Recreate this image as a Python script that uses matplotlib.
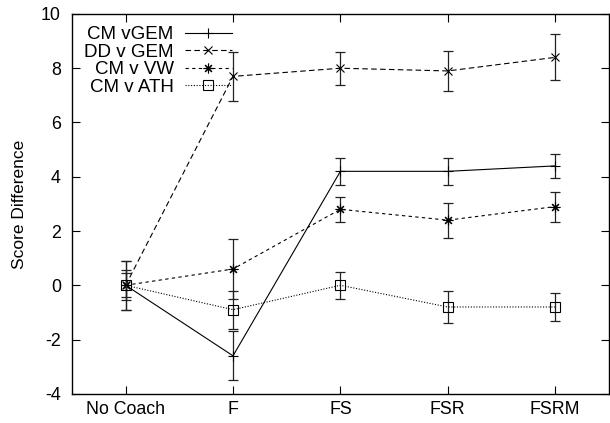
'''
Score difference by coaching condition, gnuplot-style error bar plot
'''

import matplotlib
matplotlib.use('Agg')
import matplotlib.pyplot as plt
import numpy as np

plt.rcParams['font.family'] = ['Liberation Sans', 'DejaVu Sans']
plt.rcParams['axes.unicode_minus'] = False

# conditions on the x axis
conditions = ['No Coach', 'F', 'FS', 'FSR', 'FSRM']

# series means and error half-widths
cm_vgem = [0.0, -2.6, 4.2, 4.2, 4.4]
cm_vgem_err = [0.9, 0.9, 0.5, 0.5, 0.45]
dd_vgem = [0.0, 7.7, 8.0, 7.9, 8.4]
dd_vgem_err = [0.9, 0.9, 0.6, 0.75, 0.85]
cm_vw = [0.0, 0.6, 2.8, 2.4, 2.9]
cm_vw_err = [0.55, 1.1, 0.45, 0.65, 0.55]
cm_ath = [0.0, -0.9, 0.0, -0.8, -0.8]
cm_ath_err = [0.45, 0.7, 0.5, 0.6, 0.5]

series = [
    ('CM vGEM', cm_vgem, cm_vgem_err, '-', '+', 'none', 7),
    ('DD v GEM', dd_vgem, dd_vgem_err, (0, (5, 3)), 'x', 'none', 6),
    ('CM v VW', cm_vw, cm_vw_err, (0, (3, 3)), (8, 2, 0), 'none', 7),
    ('CM v ATH', cm_ath, cm_ath_err, (0, (1, 1.5)), 's', 'none', 7),
]

x = np.arange(len(conditions))

fig = plt.figure(figsize=(6.10, 4.23), dpi=100)
ax = fig.add_axes([0.118, 0.069, 0.880, 0.898])

for label, vals, errs, ls, mk, mfc, ms in series:
    # error bars first, then the line with markers
    ax.errorbar(x, vals, yerr=errs, fmt='none', ecolor='#222222',
                elinewidth=0.9, capsize=3.5, capthick=0.9)
    ax.plot(x, vals, color='black', linestyle=ls, linewidth=0.8,
            marker=mk, markersize=ms, markerfacecolor=mfc,
            markeredgecolor='black', markeredgewidth=0.8, label=label)

ax.set_xlim(-0.5, 4.5)
ax.set_ylim(-4, 10)
ax.set_xticks(x)
ax.set_xticklabels(conditions)
ax.set_yticks(np.arange(-4, 11, 2))
ax.tick_params(direction='in', length=6, width=0.8, top=True, right=True,
               labelsize=12.8)
ax.tick_params(axis='y', pad=8)
ax.tick_params(axis='x', pad=5)
for s in ax.spines.values():
    s.set_linewidth(1.0)

ax.set_ylabel('Score Difference', fontsize=12.5, labelpad=10)

ax.legend(loc='upper left', frameon=False, markerfirst=False, fontsize=13.5,
          handlelength=2.5, handletextpad=0.6, labelspacing=0.02,
          borderaxespad=0.25, bbox_to_anchor=(0.0, 1.0))

plt.savefig('out.png', dpi=100)
